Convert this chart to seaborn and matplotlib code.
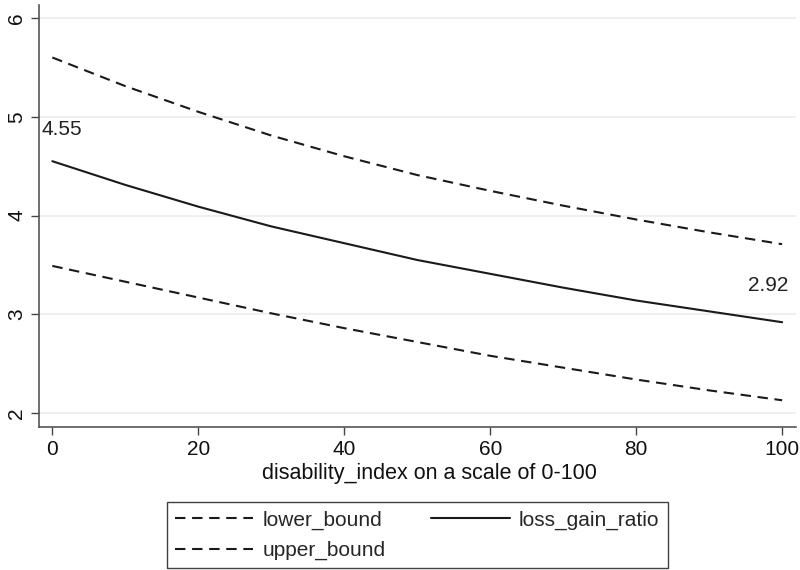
import matplotlib
matplotlib.use("Agg")
import matplotlib.pyplot as plt
import seaborn as sns
import pandas as pd
from matplotlib.lines import Line2D

disability_index = [0, 10, 20, 30, 40, 50, 60, 70, 80, 90, 100]
loss_gain_ratio = [4.55, 4.31, 4.09, 3.89, 3.72, 3.55, 3.41, 3.27, 3.14, 3.03, 2.92]
upper_bound = [5.60, 5.31, 5.05, 4.81, 4.60, 4.41, 4.25, 4.10, 3.96, 3.83, 3.71]
lower_bound = [3.49, 3.33, 3.17, 3.01, 2.86, 2.72, 2.58, 2.46, 2.34, 2.23, 2.13]
x_ticks = [0, 20, 40, 60, 80, 100]
y_ticks = [2, 3, 4, 5, 6]
x_label = "disability_index on a scale of 0-100"

sns.set_style("white")
plt.rcParams['font.family'] = ['Liberation Sans', 'DejaVu Sans']

df = pd.DataFrame({
    "x": disability_index,
    "lower_bound": lower_bound,
    "loss_gain_ratio": loss_gain_ratio,
    "upper_bound": upper_bound,
})

fig = plt.figure(figsize=(8, 5.7), dpi=100)
ax = fig.add_axes([0.049, 0.251, 0.946, 0.740])

lc = "#1a1a1a"
dash = (5, 3.2)
sns.lineplot(data=df, x="x", y="lower_bound", ax=ax, color=lc, lw=1.5)
ax.lines[-1].set_dashes(dash)
sns.lineplot(data=df, x="x", y="upper_bound", ax=ax, color=lc, lw=1.5)
ax.lines[-1].set_dashes(dash)
sns.lineplot(data=df, x="x", y="loss_gain_ratio", ax=ax, color=lc, lw=1.5)

ax.set_xlim(-1.8, 101.9)
ax.set_ylim(1.86, 6.13)
ax.set_xticks(x_ticks)
ax.set_yticks(y_ticks)
ax.set_xticklabels([str(t) for t in x_ticks], fontsize=15)
ax.set_yticklabels([str(t) for t in y_ticks], fontsize=15,
                   rotation=90, va='center')
ax.set_xlabel(x_label, fontsize=15.5, color="#111")
ax.xaxis.set_label_coords(0.515, -0.086)
ax.set_ylabel("")
ax.tick_params(axis='both', which='major', direction='out', length=6, width=1,
               color="#444", labelcolor="#111", pad=3.5, bottom=True, left=True)
ax.yaxis.grid(True, color="#ececec", lw=1.2)
ax.xaxis.grid(False)
for s in ["top", "right"]:
    ax.spines[s].set_visible(False)
for s in ["left", "bottom"]:
    ax.spines[s].set_color("#555")
    ax.spines[s].set_linewidth(1.2)

ax.annotate(f"{loss_gain_ratio[0]:.2f}", xy=(disability_index[0], loss_gain_ratio[0]),
            xytext=(-7.5, 22.5), textcoords="offset points", ha="left", va="center",
            fontsize=15, color="#222")
ax.annotate(f"{loss_gain_ratio[-1]:.2f}", xy=(disability_index[-1], loss_gain_ratio[-1]),
            xytext=(4.5, 26.5), textcoords="offset points", ha="right", va="center",
            fontsize=15, color="#222")

handles = [
    Line2D([], [], color=lc, lw=1.5, dashes=dash),
    Line2D([], [], color=lc, lw=1.5, dashes=dash),
    Line2D([], [], color=lc, lw=1.5),
]
labels = ["lower_bound", "upper_bound", "loss_gain_ratio"]
leg = fig.legend(handles, labels, ncol=2, loc="upper center",
                 bbox_to_anchor=(0.5215, 0.119), frameon=True, fancybox=False,
                 edgecolor="#111", prop={'size': 15},
                 handlelength=3.75, handletextpad=0.45, columnspacing=2.2,
                 labelspacing=0.53, borderpad=0.4, borderaxespad=0)
leg.get_frame().set_linewidth(1.0)

fig.savefig("out.png", dpi=100)
